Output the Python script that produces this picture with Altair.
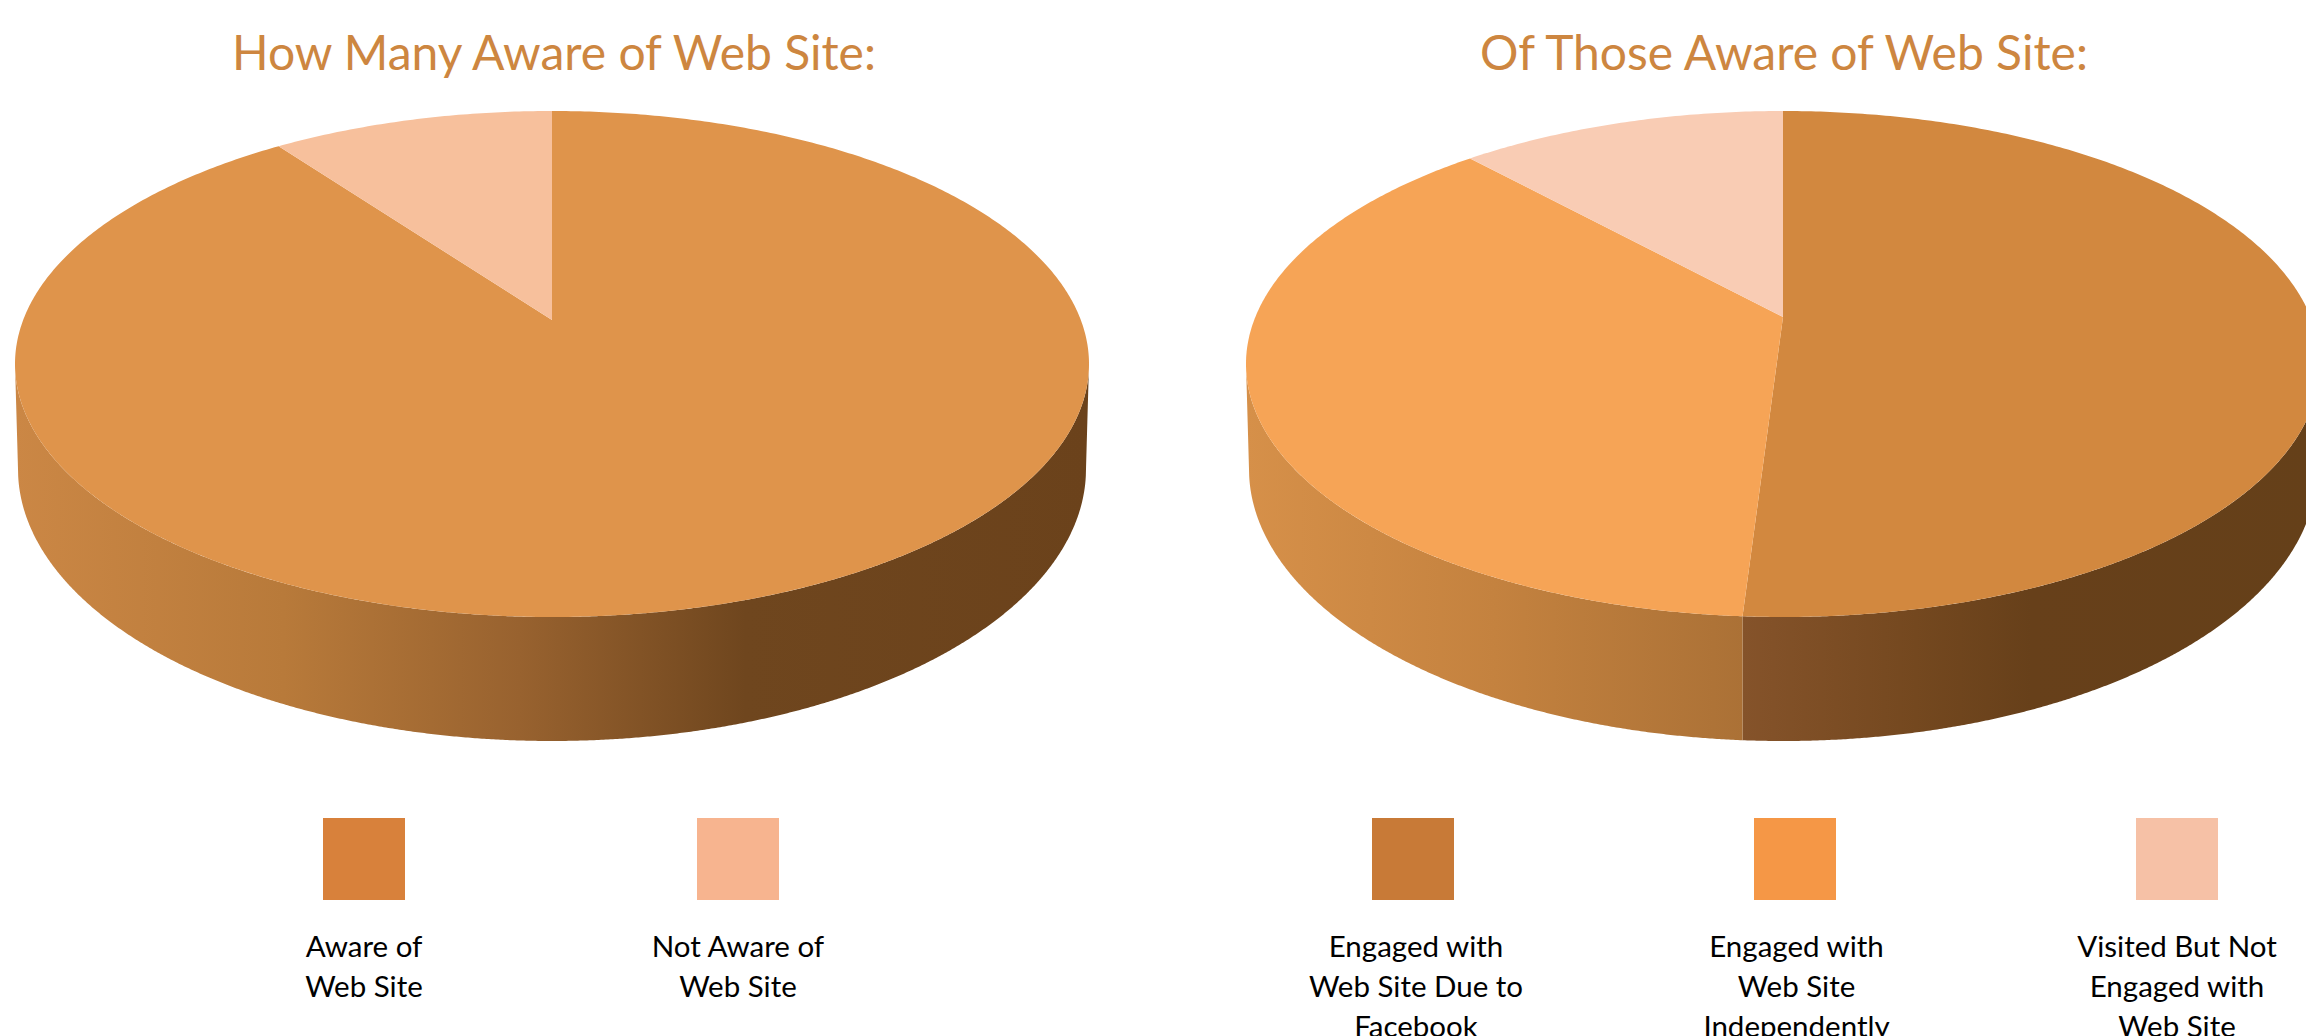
import math
import altair as alt
import pandas as pd

# ---- values ----
title_left = "How Many Aware of Web Site:"
title_right = "Of Those Aware of Web Site:"

labels_left = ["Aware of\nWeb Site", "Not Aware of\nWeb Site"]
shares_left = [91.5, 8.5]
top_colors_left = ["#DF944B", "#F7C09C"]
swatch_colors_left = ["#D8813B", "#F7B48F"]

labels_right = ["Engaged with\nWeb Site Due to\nFacebook",
                "Engaged with\nWeb Site\nIndependently",
                "Visited But Not\nEngaged with\nWeb Site"]
shares_right = [51.2, 38.9, 9.9]
top_colors_right = ["#D2883F", "#F6A456", "#F9CCB4"]
swatch_colors_right = ["#C87A37", "#F59746", "#F6C1A6"]

# side-wall shading, one gradient per stretch of the front rim (going clockwise)
wall_left = [
    [(0.0, "#CB8745"), (0.25, "#B87A3A"), (0.47, "#98622F"), (0.68, "#6F461E"), (1.0, "#6B421B")],
]
wall_right = [
    [(0.0, "#85532A"), (0.3, "#74481F"), (0.5, "#67401A"), (1.0, "#654019")],
    [(0.0, "#D69049"), (0.5, "#C4823F"), (1.0, "#AB7136")],
]

# ---- panel layout ----
W1, W2 = 1149, 1149
H_PIE, H_LEG = 782, 246
RX, RY, CY = 537, 253, 356      # top ellipse
RX2, RY2, CY2 = 534, 272, 461   # ellipse of the lower rim


def arc(cx, t0, t1, step=0.5):
    n = max(2, int(abs(t1 - t0) / step) + 1)
    out = []
    for i in range(n):
        t = math.radians(t0 + (t1 - t0) * i / (n - 1))
        out.append((cx + RX * math.sin(t), CY - RY * math.cos(t)))
    return out


def rim(cx, upper):
    out = []
    for x, _ in reversed(upper):
        d = abs(x - cx)
        if d <= RX2:
            y = CY2 + RY2 * math.sqrt(1 - (d / RX2) ** 2)
        else:
            y = CY + (CY2 - CY) * (RX - d) / (RX - RX2)
        out.append((x, y))
    return out


def poly(points):
    return pd.DataFrame({"x": [p[0] for p in points],
                         "y": [p[1] for p in points],
                         "i": list(range(len(points)))})


def shape(points, fill, W):
    return (alt.Chart(poly(points))
            .mark_line(interpolate="linear-closed", fill=fill, strokeWidth=0, opacity=1, clip=True)
            .encode(
                x=alt.X("x:Q", axis=None, scale=alt.Scale(domain=[0, W], nice=False, zero=False)),
                y=alt.Y("y:Q", axis=None, scale=alt.Scale(domain=[H_PIE, 0], nice=False, zero=False)),
                order="i:Q",
            ))


def gradient(stops):
    return alt.Gradient(gradient="linear", x1=0, y1=0, x2=1, y2=0,
                        stops=[alt.GradientStop(offset=o, color=c) for o, c in stops])


def pie_panel(title, shares, colors, walls, cx, apex_y, title_x, W):
    layers = []
    cuts = [90.0]
    t = 0.0
    for s in shares:
        t += s * 3.6
        if 90 < t < 270:
            cuts.append(t)
    cuts.append(270.0)
    for k in range(len(cuts) - 1):
        upper = arc(cx, cuts[k], cuts[k + 1], step=0.25)
        layers.append(shape(upper + rim(cx, upper), gradient(walls[k]), W))
    t = 0.0
    for s, c in zip(shares, colors):
        pts = [(cx, apex_y)] + arc(cx, t, t + s * 3.6)
        layers.append(shape(pts, c, W))
        t += s * 3.6
    text = (alt.Chart(pd.DataFrame({"t": [title]}))
            .mark_text(font="Lato", fontSize=48, color="#CD8640", align="center", baseline="alphabetic")
            .encode(text="t:N", x=alt.value(title_x), y=alt.value(62)))
    return alt.layer(*layers, text).properties(width=W, height=H_PIE)


def legend_panel(labels, colors, swatch_range, text_range, W):
    df = pd.DataFrame({"label": labels, "color": colors})

    def xenc(rng):
        return alt.X("label:N", axis=None,
                     scale=alt.Scale(type="point", domain=labels, range=rng, padding=0))

    sw = (alt.Chart(df).mark_square(size=6724, opacity=1)
          .encode(x=xenc(swatch_range), y=alt.value(69),
                  color=alt.Color("color:N", scale=None, legend=None)))
    tx = (alt.Chart(df)
          .mark_text(font="Lato", fontSize=29.5, color="#000000", align="center", baseline="alphabetic",
                     lineBreak="\n", lineHeight=40, clip=True)
          .encode(x=xenc(text_range), y=alt.value(167), text="label:N"))
    return alt.layer(sw, tx).resolve_scale(x="independent").properties(width=W, height=H_LEG)


left = alt.vconcat(
    pie_panel(title_left, shares_left, top_colors_left, wall_left, 544, 312, 546, W1),
    legend_panel(labels_left, swatch_colors_left, [356, 730], [356, 730], W1),
    spacing=0,
)
right = alt.vconcat(
    pie_panel(title_right, shares_right, top_colors_right, wall_right, 626, 309, 627, W2),
    legend_panel(labels_right, swatch_colors_right, [256, 1020], [259, 1020], W2),
    spacing=0,
)

chart = (alt.hconcat(left, right, spacing=0)
         .properties(padding=0, background="#FFFFFF")
         .configure_view(stroke=None)
         .configure_concat(spacing=0))

chart.save("out.html", embed_options={"renderer": "svg", "actions": False})
